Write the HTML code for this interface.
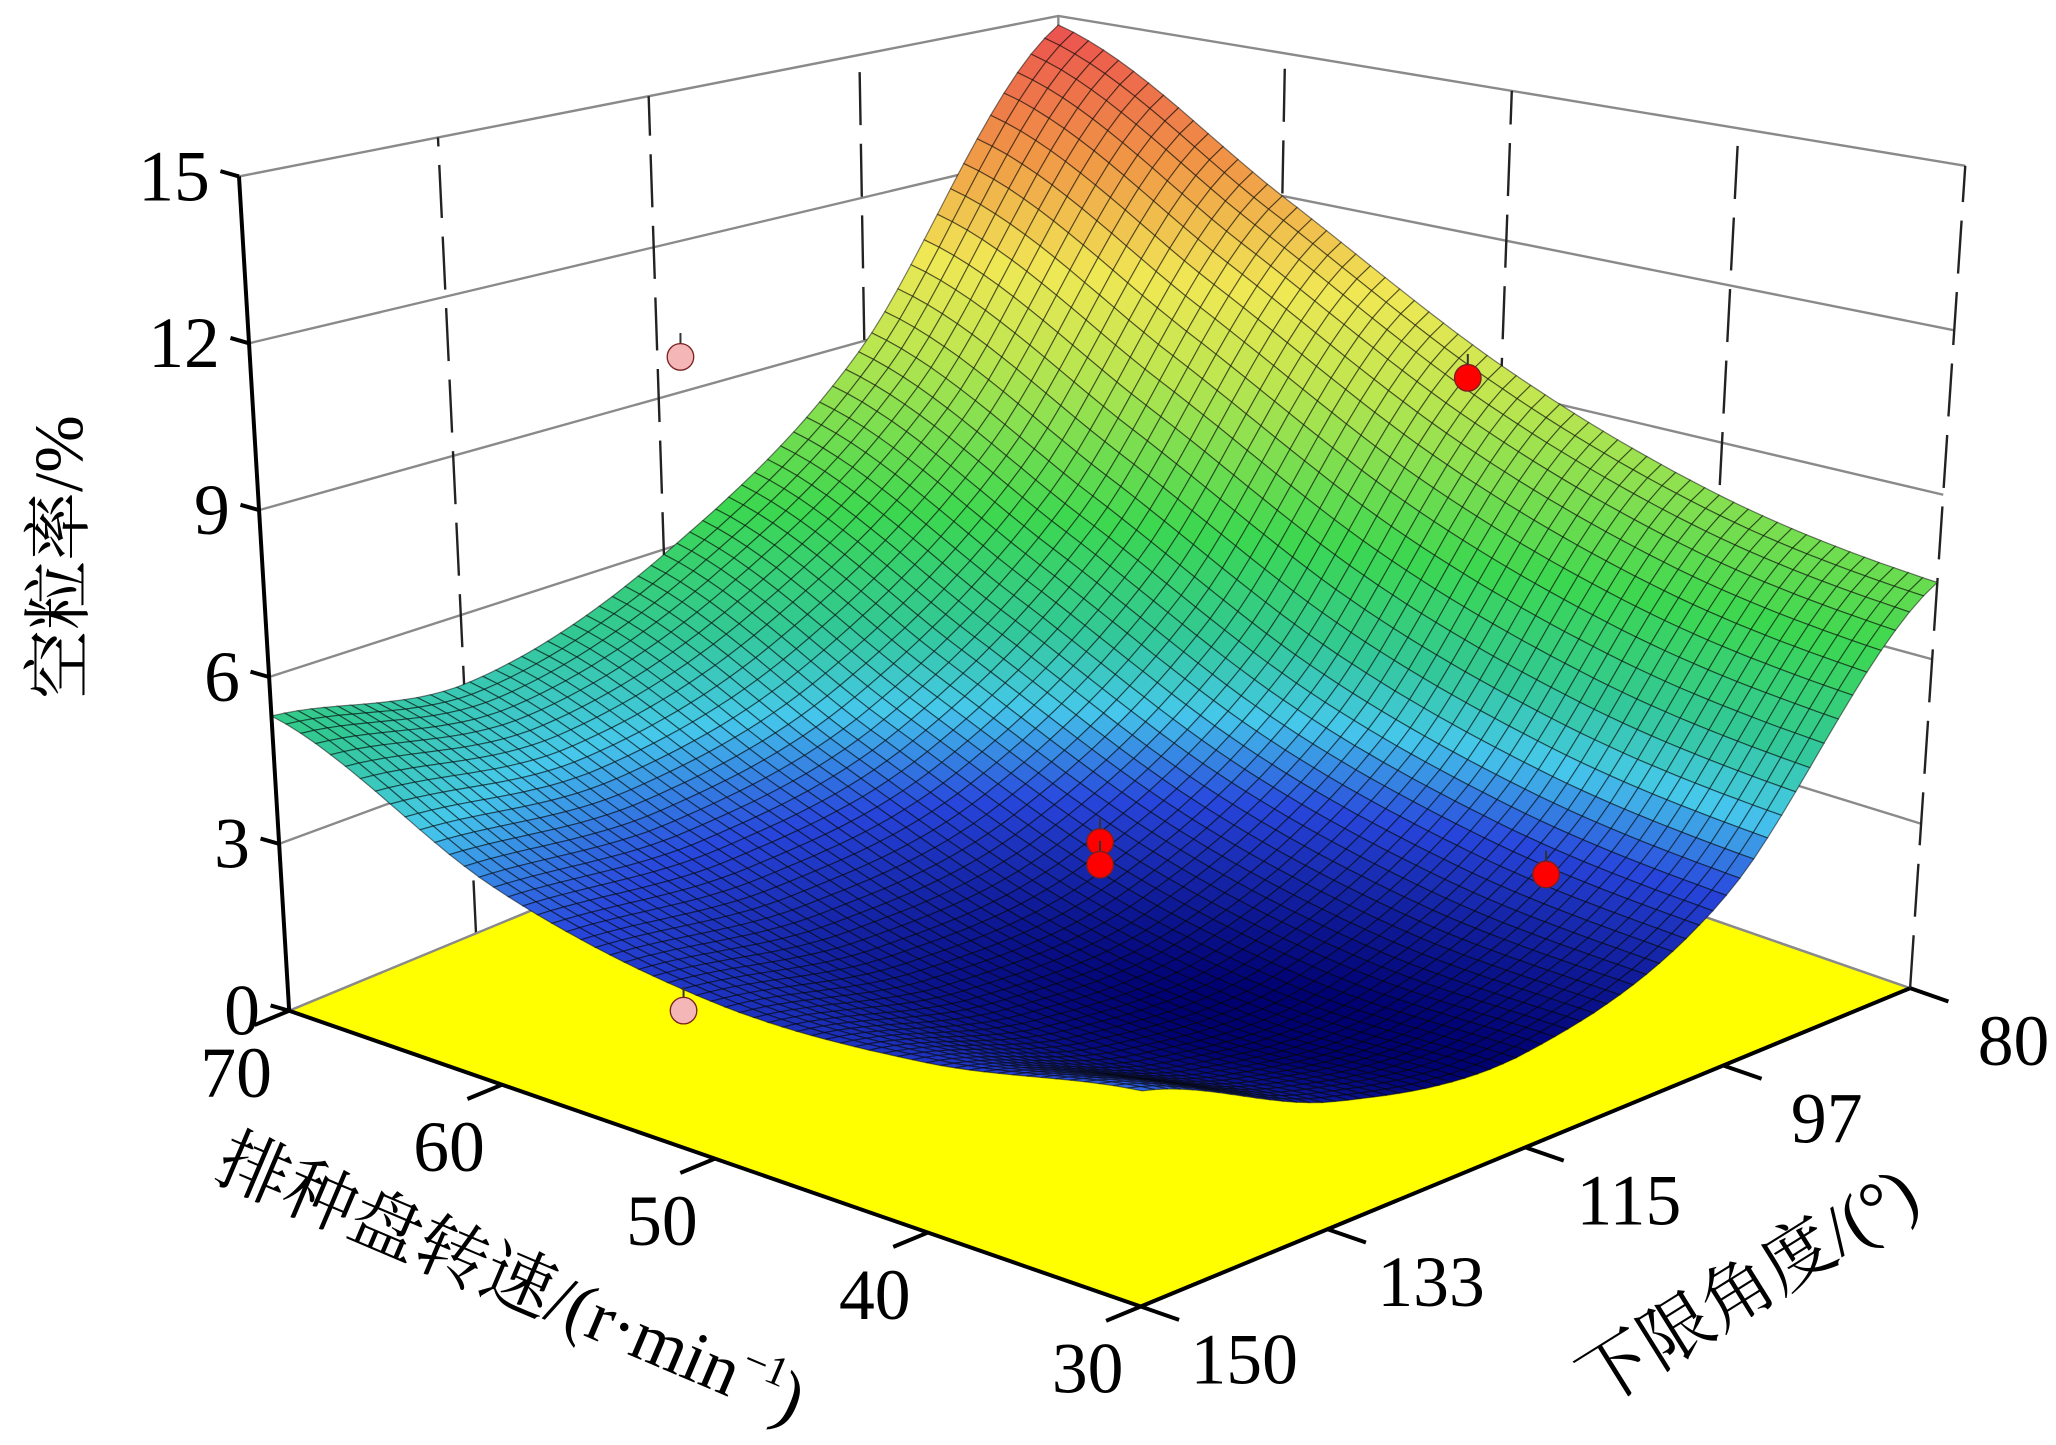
<!DOCTYPE html>
<html><head><meta charset="utf-8">
<style>
html,body{margin:0;padding:0;background:#fff;}
svg{display:block;}
text{font-family:"Liberation Serif","Noto Serif CJK SC",serif;fill:#000;}
</style></head>
<body>
<svg id="chart" width="2056" height="1445" viewBox="0 0 1550 1089.4" preserveAspectRatio="none" xmlns="http://www.w3.org/2000/svg">
  <g id="walls"></g>
  <g id="floor"></g>
  <g id="ptsBelow"></g>
  <g id="surface"></g>
  <g id="ptsAbove"></g>
  <g id="axes"></g>
  <text transform="translate(62,420) rotate(-90)" text-anchor="middle" font-size="52">空粒率/%</text>
  <text transform="translate(160,888) rotate(23)" font-size="54">排种盘转速/(r·min<tspan font-size="32" dy="-22">−1</tspan><tspan dy="22">)</tspan></text>
  <text transform="translate(1205,1062) rotate(-32)" font-size="54">下限角度/(°)</text>
</svg>
<script>
// ---- data ----
const speedTicks = [30, 40, 50, 60, 70];
const angleTicks = [150, 133, 115, 97, 80];
const zTicks = [0, 3, 6, 9, 12, 15];
// fitted surface values: rows = speed (30..70), cols = angle (150..80)
const zAtSpeed30 = [3.3, 2.0, 1.6, 3.0, 7.4];
const zAtSpeed40 = [2.7, 1.7, 1.6, 3.4, 8.0];
const zAtSpeed50 = [2.6, 2.0, 2.3, 4.5, 9.5];
const zAtSpeed60 = [3.4, 3.15, 3.9, 6.6, 12.0];
const zAtSpeed70 = [5.3, 4.7, 5.9, 8.8, 14.8];
// design points
const aboveSpeed = [51.5, 50, 50, 32];
const aboveAngle = [80, 115, 115, 110];
const aboveZ = [9.1, 2.85, 2.44, 4.0];
const belowSpeed = [70, 51.3];
const belowAngle = [113, 150];
const belowZ = [9.7, 2.3];

const grid = [zAtSpeed30, zAtSpeed40, zAtSpeed50, zAtSpeed60, zAtSpeed70];
const NS = "http://www.w3.org/2000/svg";
function sOf(sp){return (sp-30)/40;}
function tOf(an){return (150-an)/70;}
function P(s,t,z){
  const fx = 860 - 642*s + 580*t, fy = 985 - 223*s - 240*t, h = 739 - 110*s - 119*t;
  return [fx + (fx-800)*0.065*z/15, fy - h*z/15];
}
function el(tag, attrs, parent){
  const e = document.createElementNS(NS, tag);
  for (const k in attrs) e.setAttribute(k, attrs[k]);
  parent.appendChild(e); return e;
}
function pts(arr){return arr.map(p=>p[0].toFixed(1)+','+p[1].toFixed(1)).join(' ');}
function cr(p0,p1,p2,p3,x){return 0.5*((2*p1)+(-p0+p2)*x+(2*p0-5*p1+4*p2-p3)*x*x+(-p0+3*p1-3*p2+p3)*x*x*x);}
function gi(i,j){i=Math.max(0,Math.min(4,i));j=Math.max(0,Math.min(4,j));return grid[i][j];}
function zAt(s,t){
  const u=s*4, v=t*4;
  const i=Math.min(3,Math.floor(u)), j=Math.min(3,Math.floor(v));
  const fu=u-i, fv=v-j;
  const rows=[];
  for(let a=-1;a<=2;a++){
    rows.push(cr(gi(i+a,j-1),gi(i+a,j),gi(i+a,j+1),gi(i+a,j+2),fv));
  }
  return cr(rows[0],rows[1],rows[2],rows[3],fu);
}
const stops=[[1.5,[0,0,110]],[3,[40,70,220]],[4,[70,200,235]],[5,[50,200,150]],[6.5,[60,215,80]],[9,[190,230,80]],[10.5,[240,232,85]],[12.5,[240,150,70]],[14.8,[235,80,80]]];
function col(z){
  if(z<=stops[0][0]) return stops[0][1];
  for(let k=1;k<stops.length;k++){
    if(z<=stops[k][0]){const a=stops[k-1],b=stops[k],f=(z-a[0])/(b[0]-a[0]);
      return a[1].map((c,m)=>Math.round(c+(b[1][m]-c)*f));}
  }
  return stops[stops.length-1][1];
}
// walls
const walls=document.getElementById('walls');
let w1=el('polygon',{points:pts([P(1,0,0),P(1,1,0),P(1,1,15),P(1,0,15)]),fill:'#fff'},walls);


zTicks.forEach(z=>{
  let l=el('polyline',{points:pts([P(1,0,z),P(1,1,z),P(0,1,z)]),fill:'none',stroke:'#8a8a8a','stroke-width':1.8},walls);
  
  
});
angleTicks.slice(1,4).forEach(a=>{
  const t=tOf(a);
  let l=el('line',{x1:P(1,t,0)[0],y1:P(1,t,0)[1],x2:P(1,t,15)[0],y2:P(1,t,15)[1],stroke:'#222','stroke-width':1.8,'stroke-dasharray':'40 14'},walls);
  
  
});
speedTicks.slice(1,4).forEach(sp=>{
  const s=sOf(sp);
  let l=el('line',{x1:P(s,1,0)[0],y1:P(s,1,0)[1],x2:P(s,1,15)[0],y2:P(s,1,15)[1],stroke:'#222','stroke-width':1.8,'stroke-dasharray':'40 14'},walls);
  
  
});
let bc=el('line',{x1:P(1,1,0)[0],y1:P(1,1,0)[1],x2:P(1,1,15)[0],y2:P(1,1,15)[1],stroke:'#8a8a8a','stroke-width':1.8},walls);


let re=el('line',{x1:P(0,1,0)[0],y1:P(0,1,0)[1],x2:P(0,1,15)[0],y2:P(0,1,15)[1],stroke:'#222','stroke-width':1.8,'stroke-dasharray':'40 14'},walls);


// floor
const floor=document.getElementById('floor');
let fp=el('polygon',{points:pts([P(0,0,0),P(1,0,0),P(1,1,0),P(0,1,0)]),fill:'#ffff00',stroke:'#8a8a8a','stroke-width':1.8},floor);


// points
function drawPt(g,sp,an,z,fill,name){
  const s=sOf(sp),t=tOf(an);const c=P(s,t,z);
  let st=el('line',{x1:c[0],y1:c[1],x2:c[0],y2:c[1]-18,stroke:'#333','stroke-width':1.5},g);
  
  
  let ci=el('circle',{cx:c[0],cy:c[1],r:10,fill:fill,stroke:'#7a2020','stroke-width':1},g);
  
  
}
const gb=document.getElementById('ptsBelow');
drawPt(gb,belowSpeed[0],belowAngle[0],belowZ[0],'#f4b6b6','design-point-below');
// surface
const surf=document.getElementById('surface');
const N=60;
const cells=[];
for(let a=0;a<N;a++)for(let b=0;b<N;b++)cells.push([a,b]);
cells.sort((p,q)=>(q[0]+q[1])-(p[0]+p[1]));
cells.forEach(([a,b])=>{
  const s0=a/N,s1=(a+1)/N,t0=b/N,t1=(b+1)/N;
  const z00=zAt(s0,t0),z10=zAt(s1,t0),z11=zAt(s1,t1),z01=zAt(s0,t1);
  const c=col((z00+z10+z11+z01)/4);
  let q=el('polygon',{points:pts([P(s0,t0,z00),P(s1,t0,z10),P(s1,t1,z11),P(s0,t1,z01)]),fill:'rgb('+c.join(',')+')',stroke:'rgba(0,0,0,0.5)','stroke-width':0.9},surf);
  
  
});
const ga=document.getElementById('ptsAbove');
for(let k=1;k<belowZ.length;k++) drawPt(ga,belowSpeed[k],belowAngle[k],belowZ[k],'#f4b6b6','design-point-below');
for(let k=0;k<aboveZ.length;k++) drawPt(ga,aboveSpeed[k],aboveAngle[k],aboveZ[k],'#ff0000','design-point-above');
// axes
const ax=document.getElementById('axes');
let za=el('line',{x1:P(1,0,0)[0],y1:P(1,0,0)[1],x2:P(1,0,15)[0],y2:P(1,0,15)[1],stroke:'#000','stroke-width':3},ax);


zTicks.forEach(z=>{
  const p=P(1,0,z);
  let tk=el('line',{x1:p[0],y1:p[1],x2:p[0]-14,y2:p[1]-4,stroke:'#000','stroke-width':3},ax);
  
  
  let tx=el('text',{x:p[0]-22,y:p[1]+18,'text-anchor':'end','font-size':54},ax);
  tx.textContent=z;
  
  
});
let sa=el('line',{x1:P(0,0,0)[0],y1:P(0,0,0)[1],x2:P(1,0,0)[0],y2:P(1,0,0)[1],stroke:'#000','stroke-width':3},ax);


let aa=el('line',{x1:P(0,0,0)[0],y1:P(0,0,0)[1],x2:P(0,1,0)[0],y2:P(0,1,0)[1],stroke:'#000','stroke-width':3},ax);


speedTicks.forEach(sp=>{
  const s=sOf(sp);const p=P(s,0,0),q=P(s,-0.045,0);
  let tk=el('line',{x1:p[0],y1:p[1],x2:q[0],y2:q[1],stroke:'#000','stroke-width':3},ax);
  
  
  let tx=el('text',{x:p[0]-40,y:p[1]+65,'text-anchor':'middle','font-size':54},ax);
  tx.textContent=sp;
  
  
});
angleTicks.forEach(an=>{
  const t=tOf(an);const p=P(0,t,0),q=P(-0.045,t,0);
  let tk=el('line',{x1:p[0],y1:p[1],x2:q[0],y2:q[1],stroke:'#000','stroke-width':3},ax);
  
  
  let tx=el('text',{x:p[0]+78,y:p[1]+58,'text-anchor':'middle','font-size':54},ax);
  tx.textContent=an;
  
  
});
</script>
</body></html>
